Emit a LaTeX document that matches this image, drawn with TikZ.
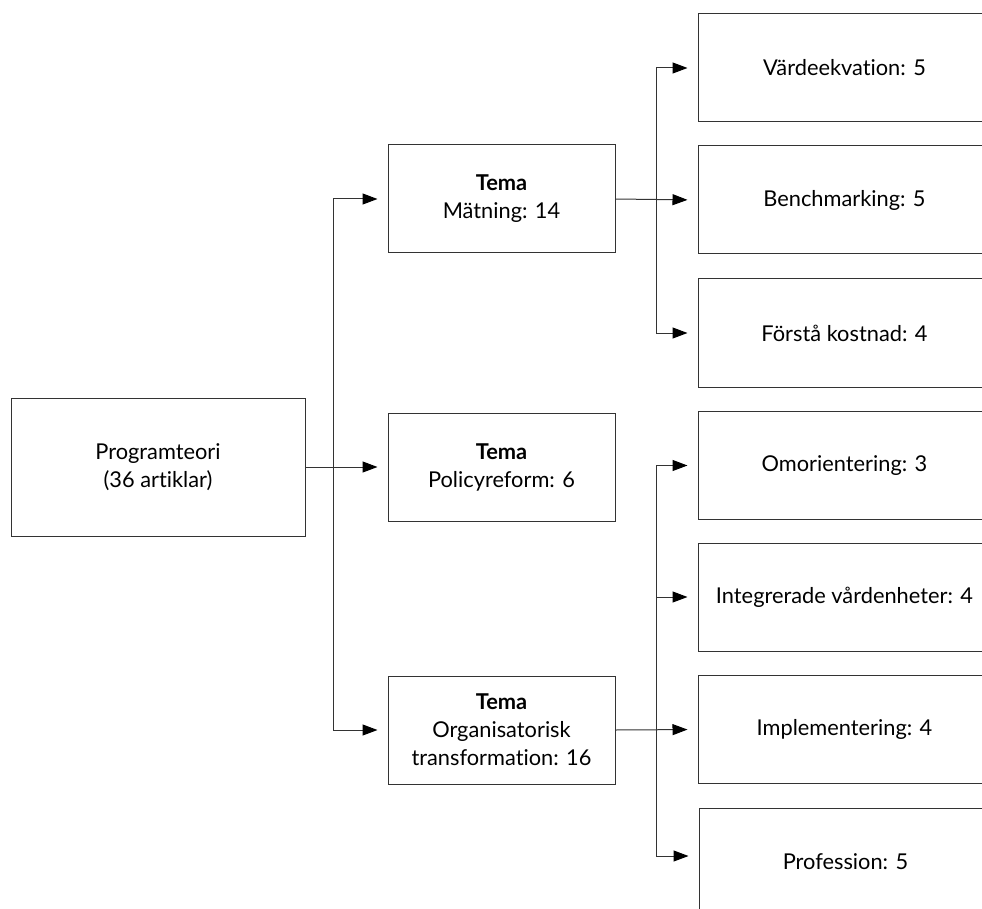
\documentclass[tikz,border=0pt]{standalone}
\usepackage{fontspec}
\setmainfont[Ligatures={NoCommon,NoRequired,NoContextual}]{Lato}
\usetikzlibrary{arrows.meta,calc}
\begin{document}
\begin{tikzpicture}[x=1pt,y=-1pt,
  box/.style={draw=black!80, line width=1pt, align=center, inner sep=0pt,
    font=\fontsize{21.8}{28}\selectfont},
  rootbox/.style={box, minimum width=294pt, minimum height=138pt},
  themebox/.style={box, minimum width=227pt, minimum height=108pt},
  leafbox/.style={box, minimum width=293pt, minimum height=108pt},
  link/.style={draw=black!80, line width=1pt},
  arr/.style={link, -{Triangle[length=15pt,width=11pt,color=black]}, shorten >=10pt}]
\useasboundingbox (0,0) rectangle (982,909);
\clip (0,0) rectangle (982,909);

% root
\node[rootbox] (prog) at (158,467) {Programteori\\(36 artiklar)};

% themes
\node[themebox] (t1) at (501.5,199) {\textbf{Tema}\\Mätning: 14};
\node[themebox] (t2) at (501.5,467) {\textbf{Tema}\\Policyreform: 6};
\node[themebox] (t3) at (501.5,730) {\textbf{Tema}\\Organisatorisk\\transformation: 16};

% sub-themes
\node[leafbox] (r1) at (844.5,68)  {Värdeekvation: 5};
\node[leafbox] (r2) at (844.5,200) {Benchmarking: 5};
\node[leafbox] (r3) at (844.5,333) {Förstå kostnad: 4};
\node[leafbox] (r4) at (844.5,465.5) {Omorientering: 3};
\node[leafbox] (r5) at (844.5,597) {Integrerade vårdenheter: 4};
\node[leafbox] (r6) at (844.5,729.5) {Implementering: 4};
\node[leafbox] (r7) at (845.5,862) {Profession: 5};

% root to themes
\coordinate (j1) at (333,467);
\draw[arr] (prog.east) -- (t2.west);
\draw[arr] (j1) |- (t1.west);
\draw[arr] (j1) |- (t3.west);

% measurement branch
\coordinate (j2) at (656,200);
\draw[arr] (t1.east) -- (r2.west);
\draw[arr] (j2) |- (r1.west);
\draw[arr] (j2) |- (r3.west);

% organisational branch
\coordinate (j3) at (656,729.5);
\draw[arr] (t3.east) -- (r6.west);
\draw[arr] (j3) |- (r4.west);
\draw[arr] (j3) |- (r5.west);
\draw[arr] (j3) |- ($(r7.west)+(0,-6)$);
\end{tikzpicture}
\end{document}
